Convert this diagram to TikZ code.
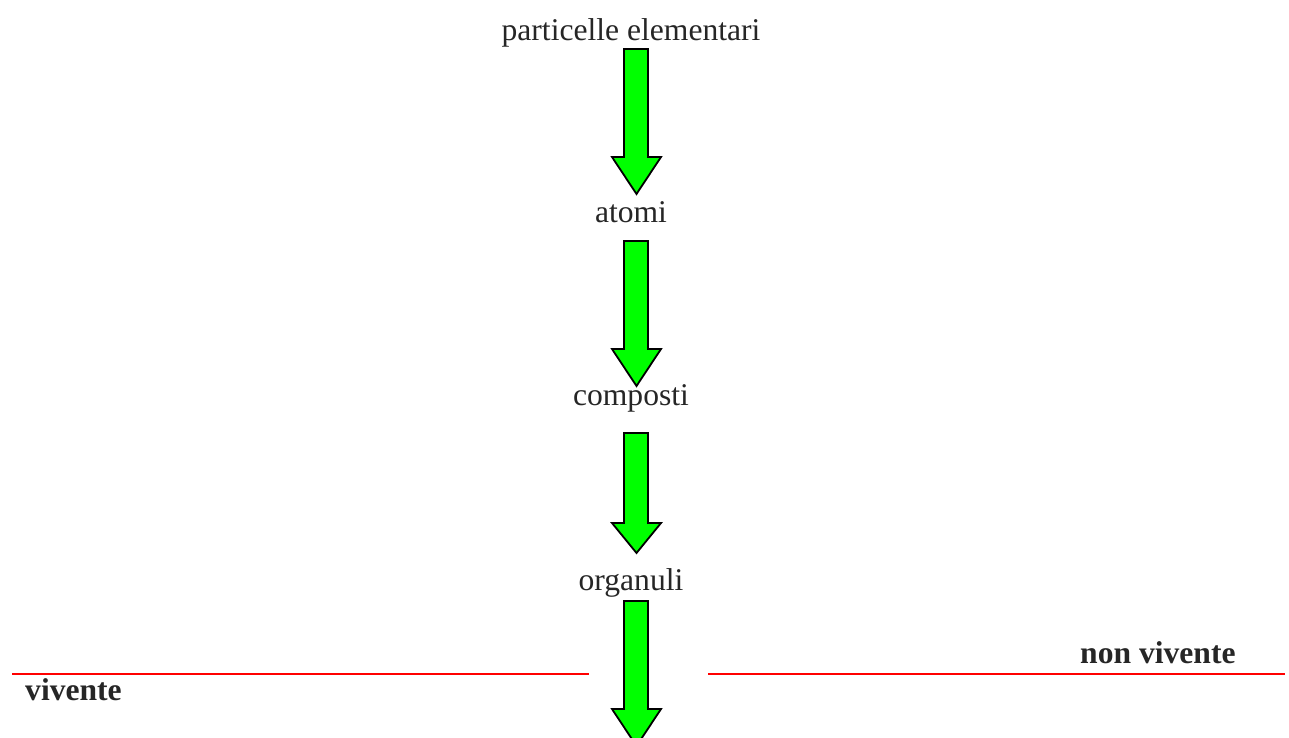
\documentclass[tikz,border=0pt]{standalone}
\usepackage{fontspec}
\setmainfont{Liberation Serif}
\begin{document}
\begin{tikzpicture}[x=1pt,y=-1pt,
  lbl/.style={anchor=base,inner sep=0pt,text=black!85,font=\fontsize{31.6}{38}\selectfont},
  blbl/.style={anchor=base west,inner sep=0pt,text=black!85,font=\fontsize{31.6}{38}\selectfont\bfseries},
  redline/.style={draw=red,line width=2pt},
  barrow/.style={fill=green,draw=black,line width=1.8pt,line join=miter}]
\useasboundingbox (0,0) rectangle (1289,738);
\clip (0,0) rectangle (1289,738);
\newcommand\blockarrow[3]{%
  \path[barrow] (624,#1) -- (648,#1) -- (648,#2) -- (661,#2) -- (636.5,#3) -- (612,#2) -- (624,#2) -- cycle;}
\node[lbl] (p) at (631,41) {particelle elementari};
\node[lbl] (a) at (631,222) {atomi};
\node[lbl] (c) at (631,405) {composti};
\node[lbl] (o) at (631,590) {organuli};
\blockarrow{49}{157}{194}
\blockarrow{241}{349}{386}
\blockarrow{433}{523}{553}
\blockarrow{601}{709}{746}
\coordinate (l1) at (12,674);
\coordinate (l2) at (589,674);
\coordinate (r1) at (708,674);
\coordinate (r2) at (1285,674);
\draw[redline] (l1) -- (l2);
\draw[redline] (r1) -- (r2);
\node[blbl] (nv) at (1080,663) {non vivente};
\node[blbl] (v) at (25,700) {vivente};
\end{tikzpicture}
\end{document}
